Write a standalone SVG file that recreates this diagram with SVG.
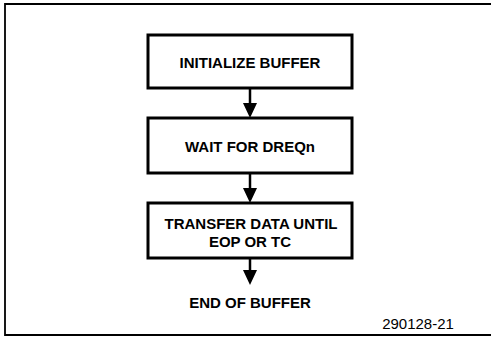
<svg xmlns="http://www.w3.org/2000/svg" width="491" height="337" viewBox="0 0 491 337">
<defs>
<style>
.box{fill:#fff;stroke:#000;stroke-width:3}
.frame{fill:none;stroke:#000;stroke-width:1.8}
.conn{stroke:#000;stroke-width:2.5;fill:none}
.t{font-family:"Liberation Sans",Arial,sans-serif;font-size:15px;font-weight:bold;fill:#000;text-anchor:middle}
</style>
</defs>
<rect width="491" height="337" fill="#fff"/>
<path class="frame" d="M491,4 H5 V335 H491"/>
<g id="n1">
<rect class="box" x="148" y="35" width="204" height="53"/>
<text class="t" x="250" y="68">INITIALIZE BUFFER</text>
</g>
<g id="n2">
<rect class="box" x="148" y="118" width="204" height="55"/>
<text class="t" x="250" y="152">WAIT FOR DREQn</text>
</g>
<g id="n3">
<rect class="box" x="148" y="203" width="204" height="55"/>
<text class="t" x="251" y="229">TRANSFER DATA UNTIL</text>
<text class="t" x="250" y="247">EOP OR TC</text>
</g>
<g id="n4">
<text class="t" x="250" y="308">END OF BUFFER</text>
</g>
<g id="connectors">
<line class="conn" x1="250" y1="88" x2="250" y2="104"/>
<path d="M243,103 L257,103 L250,118 Z" fill="#000"/>
<line class="conn" x1="250" y1="173" x2="250" y2="189"/>
<path d="M243,188 L257,188 L250,203 Z" fill="#000"/>
<line class="conn" x1="250" y1="258" x2="250" y2="271"/>
<path d="M243,270 L257,270 L250,285 Z" fill="#000"/>
</g>
<text class="t" x="418" y="329" style="font-weight:normal">290128-21</text>
</svg>
